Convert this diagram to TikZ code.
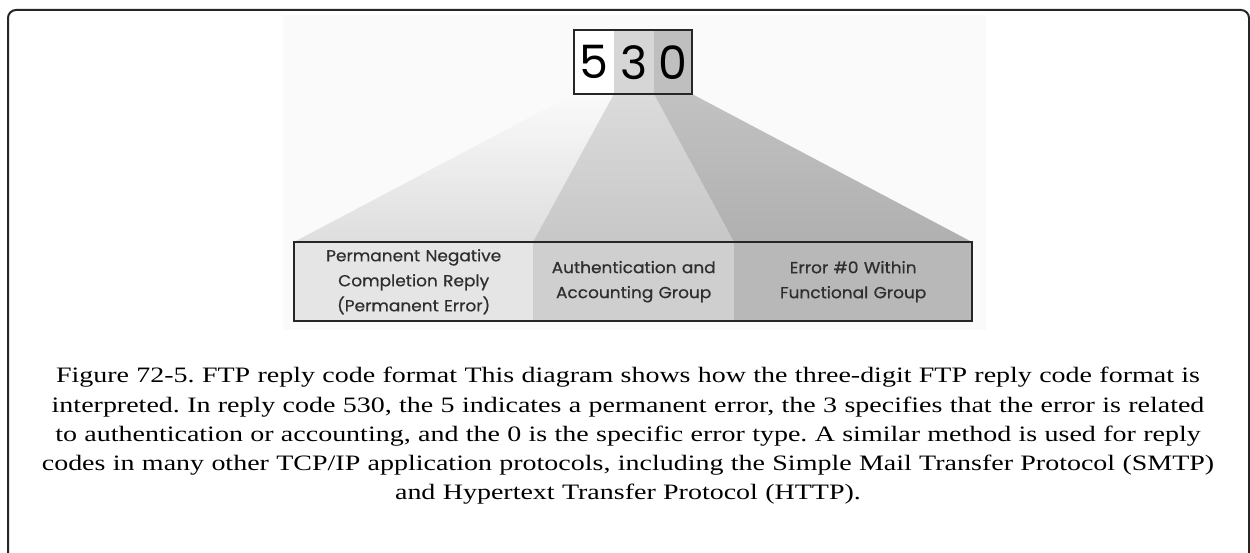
\documentclass[tikz,border=0pt]{standalone}
\usepackage{fontspec}
\setmainfont{Liberation Serif}
\newfontfamily\capfont{Liberation Serif}[FakeStretch=1.272]
\newfontfamily\diafont{Poppins}[FakeStretch=1.06,FakeBold=0.6]
\newfontfamily\digfont{Poppins}
\begin{document}
\begin{tikzpicture}[x=1pt,y=-1pt,
  cellbox/.style={draw=none,inner sep=0pt,minimum height=79pt,text width=#1,align=center,
    font=\diafont\fontsize{16}{25}\selectfont,text=black!82},
  digitbox/.style={inner sep=0pt,minimum width=40pt,minimum height=64pt,
    font=\digfont\fontsize{46}{46}\selectfont},
  frameline/.style={line width=2pt,black!85},
  boxline/.style={line width=2pt,black!85}]
\useasboundingbox (0,0) rectangle (1250,553);
% faint backdrop
\fill[black!2] (283,15) rectangle (986,330);
% named corners
\coordinate (t0) at (574,94); \coordinate (t1) at (614,94);
\coordinate (t2) at (654,94); \coordinate (t3) at (692,94);
\coordinate (b0) at (294,242); \coordinate (b1) at (533,242);
\coordinate (b2) at (734,242); \coordinate (b3) at (972,242);
% fans
\shade[top color=black!2,bottom color=black!13] (t0) -- (t1) -- (b1) -- (b0) -- cycle;
\shade[top color=black!14,bottom color=black!22] (t1) -- (t2) -- (b2) -- (b1) -- cycle;
\shade[top color=black!24,bottom color=black!31] (t2) -- (t3) -- (b3) -- (b2) -- cycle;
% top digit cells
\node[digitbox,fill=white,anchor=north west] (d5) at (574,30) {5};
\node[digitbox,fill=black!16,anchor=north west] (d3) at (614,30) {3};
\node[digitbox,fill=black!25,minimum width=38pt,anchor=north west] (d0) at (654,30) {0};
\draw[boxline] (d5.north west) rectangle (d0.south east);
% bottom cells
\node[cellbox=239pt,fill=black!10,anchor=north west] (c1) at (294,242)
  {Permanent Negative\\Completion Reply\\(Permanent Error)};
\node[cellbox=201pt,fill=black!19,anchor=north west] (c2) at (533,242)
  {Authentication and\\Accounting Group};
\node[cellbox=238pt,fill=black!28,anchor=north west] (c3) at (734,242)
  {Error \#0 Within\\Functional Group};
\draw[boxline] (c1.north west) rectangle (c3.south east);
% caption
\node[text width=1230pt,align=center,inner sep=0pt,font=\capfont\frenchspacing\fontsize{22}{29.3}\selectfont] (cap) at (628,436)
  {Figure 72-5. FTP reply code format This diagram shows how the three-digit FTP reply code format is\\
   interpreted. In reply code 530, the 5 indicates a permanent error, the 3 specifies that the error is related\\
   to authentication or accounting, and the 0 is the specific error type. A similar method is used for reply\\
   codes in many other TCP/IP application protocols, including the Simple Mail Transfer Protocol (SMTP)\\
   and Hypertext Transfer Protocol (HTTP).};
% outer frame
\draw[frameline,rounded corners=8pt] (8,620) -- (8,10) -- (1249,10) -- (1249,620);
\end{tikzpicture}
\end{document}
